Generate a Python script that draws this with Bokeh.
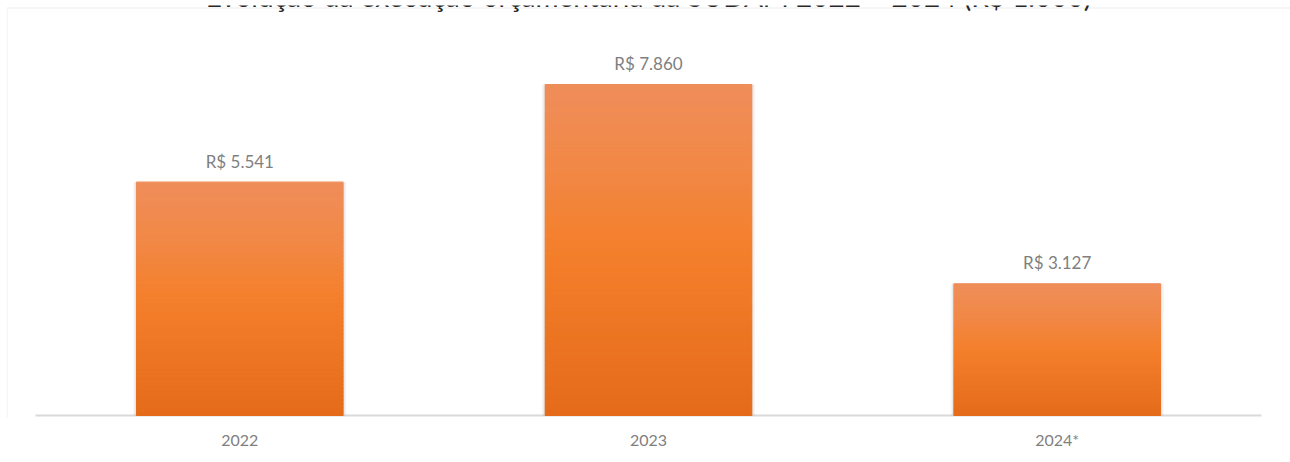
from bokeh.plotting import figure
from bokeh.models import Range1d, FactorRange, Label, BoxAnnotation, ColumnDataSource
from bokeh.core.properties import value
from bokeh.embed import file_html
from bokeh.resources import INLINE

# ---- data ----
years = ["2022", "2023", "2024*"]
values = [5541, 7860, 3127]
value_labels = ["R$ " + f"{v:,}".replace(",", ".") for v in values]
title_text = "Evolução da execução orçamentária da SUDAM 2022 – 2024 (R$ 1.000)"

# ---- style ----
FONT = "Lato"
GRAY = "#7f7f7f"
STOPS = [(0.0, (0xE4, 0x6B, 0x1A)), (0.5, (0xF4, 0x7F, 0x2B)),
         (0.75, (0xF1, 0x88, 0x46)), (1.0, (0xEF, 0x8D, 0x5A))]


def grad(t):
    for (t0, c0), (t1, c1) in zip(STOPS[:-1], STOPS[1:]):
        if t0 <= t <= t1:
            f = (t - t0) / (t1 - t0)
            c = [round(a + (b - a) * f) for a, b in zip(c0, c1)]
            return "#%02x%02x%02x" % tuple(c)
    return "#%02x%02x%02x" % STOPS[-1][1]


PAD = 0.0709
xr = FactorRange(*years, range_padding=PAD, range_padding_units="absolute")
p = figure(x_range=xr, y_range=Range1d(-47.5, 9738.5), width=1290, height=462,
           output_backend="svg", toolbar_location=None,
           min_border_left=6, min_border_right=0, min_border_top=5,
           min_border_bottom=45, margin=(0, 0, 0, 0))
p.outline_line_color = None
p.xgrid.visible = False
p.ygrid.visible = False
p.yaxis.visible = False
p.background_fill_color = "white"
p.border_fill_color = "white"

# container border (top & left)
p.add_layout(BoxAnnotation(left=-PAD + 0.0015, right=3.5, top=9679, bottom=-3000,
                           fill_color=None, line_color="#d9d9d9", line_width=1.5,
                           level="underlay"))

# baseline across the category span
p.segment(x0=[0], y0=[0], x1=[len(years)], y1=[0], line_color="#d9d9d9",
          line_width=2)

# shadows
p.vbar(x=years, top=values, width=0.522, fill_color="#000000", fill_alpha=0.04,
       line_color=None)
p.vbar(x=years, top=values, width=0.514, fill_color="#000000", fill_alpha=0.06,
       line_color=None)

# gradient bars built from slices of each value
N = 60
xs, bots, tops, cols = [], [], [], []
for yr, v in zip(years, values):
    for i in range(N):
        xs.append(yr)
        bots.append(v * i / N)
        tops.append(v * (i + 1) / N)
        cols.append(grad((i + 0.5) / N))
src = ColumnDataSource(dict(x=xs, bottom=bots, top=tops, color=cols))
p.vbar(x="x", bottom="bottom", top="top", width=0.505, source=src,
       fill_color="color", line_color="color", line_width=1.2)

# value labels
lsrc = ColumnDataSource(dict(x=years, y=values, t=value_labels))
p.text(x="x", y="y", text="t", source=lsrc, text_align="center",
       text_baseline="middle", y_offset=-21, text_font=value(FONT),
       text_font_size="17px", text_color=GRAY)

# title (mostly cut off at top, as in the reference)
p.add_layout(Label(x=1.5, y=9976, text=title_text, text_align="center",
                   text_baseline="alphabetic", text_font=FONT,
                   text_font_size="28px", text_color="#262626"))

ax = p.xaxis[0]
ax.axis_line_color = None
ax.major_tick_line_color = None
ax.minor_tick_line_color = None
ax.major_label_standoff = 6
ax.major_label_text_font = FONT
ax.major_label_text_font_size = "16px"
ax.major_label_text_color = GRAY

open("out.html", "w").write(file_html(p, INLINE))
